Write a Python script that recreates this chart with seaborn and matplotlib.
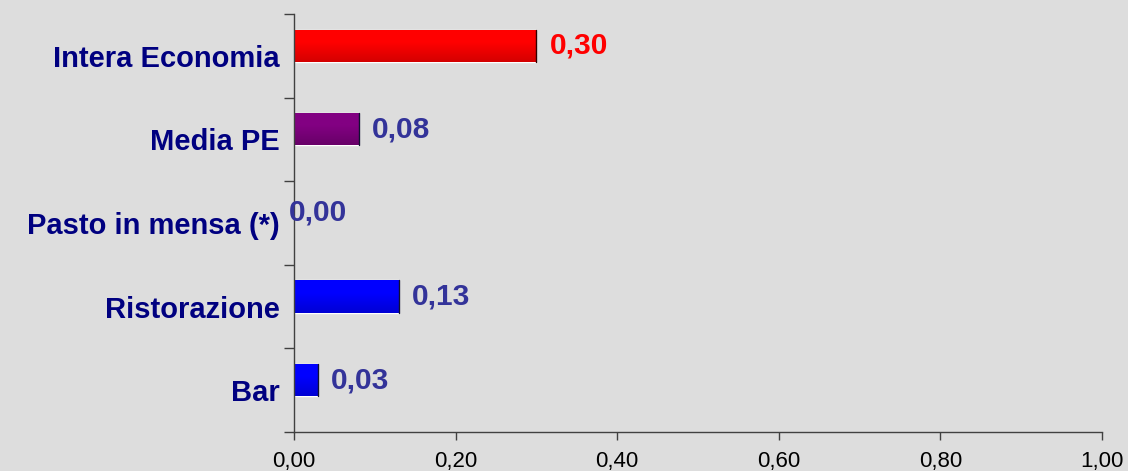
import matplotlib
matplotlib.use("Agg")
import matplotlib.pyplot as plt
import numpy as np
import pandas as pd
import seaborn as sns

categories = ["Intera Economia", "Media PE", "Pasto in mensa (*)", "Ristorazione", "Bar"]
values = [0.30, 0.08, 0.00, 0.13, 0.03]
value_labels = ["0,30", "0,08", "0,00", "0,13", "0,03"]
x_ticks = [0.0, 0.2, 0.4, 0.6, 0.8, 1.0]
x_tick_labels = ["0,00", "0,20", "0,40", "0,60", "0,80", "1,00"]

bar_colors = {"Intera Economia": ("#FF0000", "#D40000"),
              "Media PE": ("#820082", "#680068"),
              "Pasto in mensa (*)": ("#0000FF", "#0000D4"),
              "Ristorazione": ("#0000FF", "#0000D4"),
              "Bar": ("#0000FF", "#0000D4")}
label_colors = ["#FF0000", "#333399", "#333399", "#333399", "#333399"]

bg = "#DDDDDD"
sns.set_theme(style="white")
plt.rcParams["font.family"] = ["Liberation Sans", "DejaVu Sans"]

df = pd.DataFrame({"cat": categories, "val": values})

fig = plt.figure(figsize=(11.28, 4.71), dpi=100, facecolor=bg)
ax = fig.add_axes([294 / 1128, 1 - 432 / 471, (1102 - 294) / 1128, (432 - 14) / 471])
ax.set_facecolor(bg)

sns.barplot(data=df, x="val", y="cat", hue="cat", orient="h",
            palette={k: v[0] for k, v in bar_colors.items()},
            width=0.385, legend=False, ax=ax, saturation=1)

# gradient fill for each bar
for patch, cat in zip(ax.patches, categories):
    x0, y0 = patch.get_x(), patch.get_y()
    w, h = patch.get_width(), patch.get_height()
    if w <= 0:
        continue
    top, bot = bar_colors[cat]
    c1 = np.array(matplotlib.colors.to_rgb(top))
    c2 = np.array(matplotlib.colors.to_rgb(bot))
    t = np.linspace(0, 1, 64)[:, None]
    t = np.clip((t - 0.4) / 0.6, 0, 1)
    grad = (c1 * (1 - t) + c2 * t)[:, None, :]
    im = ax.imshow(grad, extent=(x0, x0 + w, y0 + h, y0), aspect="auto",
                   origin="upper", zorder=patch.get_zorder() + 0.1)
    im.set_clip_path(patch)
    ax.plot([x0 + w, x0 + w], [y0, y0 + h], color="#300000" if cat == "Intera Economia" else "#101030",
            lw=1.0, zorder=patch.get_zorder() + 0.2)

# category bands sit slightly below the bars (as in the original chart)
shift = 0.12
n = len(categories)
ax.set_xlim(0, 1.0)
ax.set_ylim(n - 0.5 + shift, -0.5 + shift)
ax.set_xticks(x_ticks)
ax.set_xticklabels(x_tick_labels, fontsize=16, color="black")
ax.set_xlabel("")
ax.set_ylabel("")

ax.set_yticks(np.arange(n) + shift)
ax.set_yticklabels(categories, fontsize=21, fontweight="bold", color="#000080")
ax.set_yticks(np.arange(-0.5, n, 1.0) + shift, minor=True)
ax.tick_params(axis="y", which="major", left=False, length=0, pad=10)
ax.tick_params(axis="y", which="minor", left=True, length=7, width=1.0, color="#404040", direction="out")
ax.tick_params(axis="x", which="major", bottom=True, length=6, width=1.0, color="#404040",
               direction="out", pad=8)

for s in ["top", "right"]:
    ax.spines[s].set_visible(False)
for s in ["left", "bottom"]:
    ax.spines[s].set_color("#404040")
    ax.spines[s].set_linewidth(1.0)

for i, (v, txt, col) in enumerate(zip(values, value_labels, label_colors)):
    dx = 13 if v > 0 else -5
    ax.annotate(txt, xy=(v, i), xytext=(dx * 72 / 100, 0), textcoords="offset points",
                ha="left", va="center", fontsize=21.5, fontweight="bold", color=col, zorder=10)

fig.savefig("out.png", dpi=100, facecolor=bg)
